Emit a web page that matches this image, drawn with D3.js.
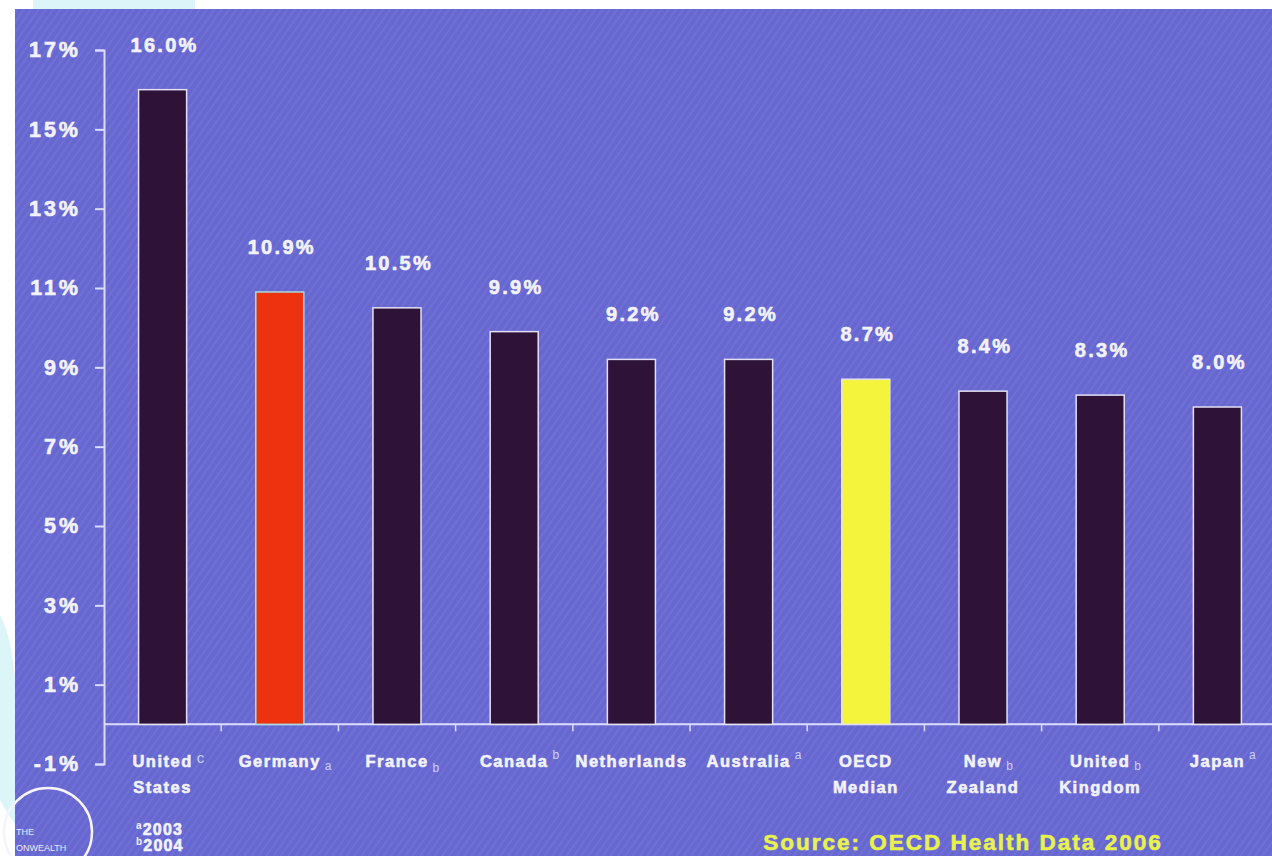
<!DOCTYPE html>
<html>
<head>
<meta charset="utf-8">
<script src="https://cdn.jsdelivr.net/npm/d3@7"></script>
<style>
  html, body { margin: 0; padding: 0; background: #ffffff; }
  svg { display: block; }
  text { font-family: "Liberation Sans", Arial, sans-serif; }
</style>
</head>
<body>
<svg id="chart" width="1272" height="856"></svg>
<script>
// Total health expenditure as a share of GDP, 2005
const countries = ["United States", "Germany", "France", "Canada", "Netherlands",
                   "Australia", "OECD Median", "New Zealand", "United Kingdom", "Japan"];
const labelLines = [["United", "States"], ["Germany"], ["France"], ["Canada"], ["Netherlands"],
                    ["Australia"], ["OECD", "Median"], ["New", "Zealand"], ["United", "Kingdom"], ["Japan"]];
const spending = [16.0, 10.9, 10.5, 9.9, 9.2, 9.2, 8.7, 8.4, 8.3, 8.0];
const valueLabels = ["16.0%", "10.9%", "10.5%", "9.9%", "9.2%", "9.2%", "8.7%", "8.4%", "8.3%", "8.0%"];
const yearNotes = ["c", "a", "b", "b", "", "a", "", "b", "b", "a"];
const yTicks = [-1, 1, 3, 5, 7, 9, 11, 13, 15, 17];
const footnotes = [["a", "2003"], ["b", "2004"]];
const sourceText = "Source: OECD Health Data 2006";

const svg = d3.select("#chart");
const W = 1272, H = 856;

// page backdrop pieces
svg.append("rect").attr("x", 0).attr("y", 0).attr("width", W).attr("height", H).attr("fill", "#ffffff");
svg.append("rect").attr("x", 33).attr("y", 0).attr("width", 162).attr("height", 12).attr("fill", "#dcf5f9");
svg.append("path").attr("d", "M0,615 Q14,640 16,700 L16,825 Q8,815 0,800 Z").attr("fill", "#dcf5f9");

// slide panel with a diagonal weave texture
const defs = svg.append("defs");
const pat = defs.append("pattern").attr("id", "weave").attr("patternUnits", "userSpaceOnUse")
  .attr("width", 6).attr("height", 6).attr("patternTransform", "rotate(35)");
pat.append("rect").attr("width", 6).attr("height", 6).attr("fill", "#6767d0");
pat.append("rect").attr("x", 0).attr("y", 0).attr("width", 2).attr("height", 6).attr("fill", "#7676da").attr("opacity", 0.55);
svg.append("rect").attr("x", 15).attr("y", 9).attr("width", W - 15).attr("height", H - 9).attr("fill", "url(#weave)");

const x = d3.scaleBand().domain(countries).range([104, 1276]).paddingInner(0.59).paddingOuter(0.295);
const y = d3.scaleLinear().domain([-1, 17]).range([764, 50]);

const lineCol = "#dcdcff";
const textCol = "#f2f2fa";

// heavier lettering helper
const heavy = sel => sel.attr("font-weight", "bold").attr("stroke", textCol).attr("stroke-width", 0.6)
  .attr("fill", textCol).attr("font-family", "'Liberation Sans', Arial, sans-serif");

// y axis
const yAxis = svg.append("g").attr("transform", "translate(104,0)")
  .call(d3.axisLeft(y).tickValues(yTicks).tickFormat(d => d + "%").tickSize(9).tickSizeOuter(9).tickPadding(14));
yAxis.select(".domain").attr("stroke", lineCol).attr("stroke-width", 2);
yAxis.selectAll(".tick line").attr("stroke", lineCol).attr("stroke-width", 2);
yAxis.selectAll(".tick text").call(heavy).attr("font-size", 21.5).attr("letter-spacing", 3);

// zero line with category separators
const y0 = y(0);
svg.append("line").attr("x1", 104).attr("x2", W).attr("y1", y0).attr("y2", y0)
  .attr("stroke", lineCol).attr("stroke-width", 2);
svg.append("g").selectAll("line").data(countries.slice(1)).join("line")
  .attr("x1", d => x(d) - x.step() * x.paddingInner() / 2)
  .attr("x2", d => x(d) - x.step() * x.paddingInner() / 2)
  .attr("y1", y0).attr("y2", y0 + 7)
  .attr("stroke", lineCol).attr("stroke-width", 1.5);

// bars
const fills = { "Germany": "#ee3210", "OECD Median": "#f4f43c" };
const strokes = { "Germany": "#a6dce4" };
svg.append("g").selectAll("rect").data(countries).join("rect")
  .attr("x", d => x(d)).attr("width", x.bandwidth())
  .attr("y", (d, i) => y(spending[i])).attr("height", (d, i) => y0 - y(spending[i]))
  .attr("fill", d => fills[d] || "#2e1238")
  .attr("stroke", d => strokes[d] || "#e4e0f4").attr("stroke-width", 1.5);

// value labels
svg.append("g").selectAll("text").data(countries).join("text")
  .attr("x", d => x(d) + x.bandwidth() / 2 + 2)
  .attr("y", (d, i) => y(spending[i]) - 38)
  .attr("text-anchor", "middle")
  .call(heavy).attr("font-size", 20).attr("letter-spacing", 2.3)
  .text((d, i) => valueLabels[i]);

// category labels with year notes
const noteRaise = { "United States": -4, "Germany": 3, "France": 5, "Canada": -8,
                    "Australia": -8, "New Zealand": 3, "United Kingdom": 3, "Japan": -8 };
const cats = svg.append("g").selectAll("g").data(countries).join("g")
  .attr("transform", d => `translate(${x(d) + x.bandwidth() / 2},0)`);
cats.each(function (d, i) {
  const g = d3.select(this);
  labelLines[i].forEach((line, k) => {
    const t = g.append("text").attr("y", 767 + k * 26).attr("text-anchor", "middle")
      .call(heavy).attr("font-size", 16.5).attr("letter-spacing", 1.5)
      .text(line);
    if (k === 0 && yearNotes[i]) {
      const w = t.node().getComputedTextLength();
      g.append("text").attr("x", w / 2 + 4).attr("y", 767 + noteRaise[d])
        .attr("fill", "#c9d2ff").attr("font-size", d === "United States" ? 15 : 12)
        .attr("font-family", "'Liberation Serif', 'DejaVu Serif', serif")
        .text(yearNotes[i]);
    }
  });
});

// logo ring
svg.append("circle").attr("cx", 48).attr("cy", 832).attr("r", 44)
  .attr("fill", "none").attr("stroke", "#f4f4fa").attr("stroke-width", 2.5);
svg.append("text").attr("x", 16).attr("y", 835).attr("fill", "#e8e8f8").attr("font-size", 9).text("THE");
svg.append("text").attr("x", 16).attr("y", 851).attr("fill", "#e8e8f8").attr("font-size", 9).text("ONWEALTH");

// footnotes
footnotes.forEach(([sup, yr], i) => {
  const t = svg.append("text").attr("x", 136).attr("y", 835 + i * 16)
    .call(heavy).attr("font-size", 16).attr("letter-spacing", 1.2);
  t.append("tspan").attr("font-size", 10).attr("stroke-width", 0).attr("dy", -6).text(sup);
  t.append("tspan").attr("dy", 6).text(yr);
});

// source line
svg.append("text").attr("x", 963).attr("y", 850).attr("text-anchor", "middle")
  .attr("fill", "#e8f24c").attr("stroke", "#e8f24c").attr("stroke-width", 0.6)
  .attr("font-size", 22.5).attr("font-weight", "bold").attr("letter-spacing", 2)
  .text(sourceText);
</script>
</body>
</html>
